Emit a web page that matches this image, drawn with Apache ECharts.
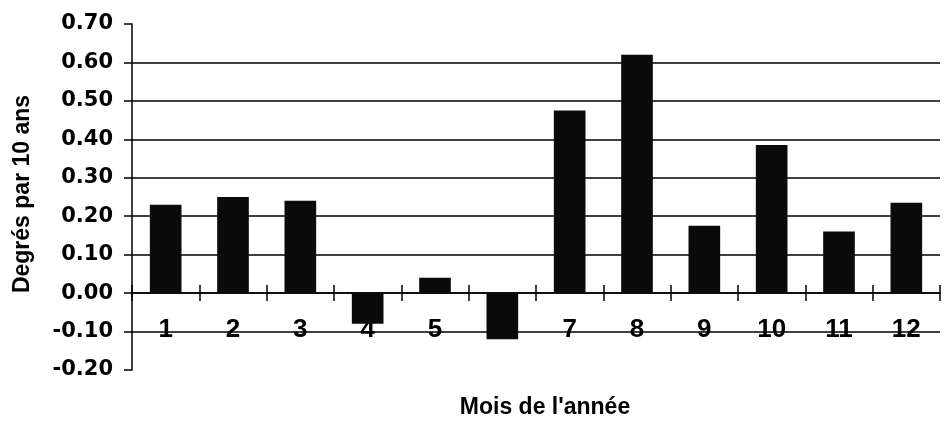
<!DOCTYPE html>
<html>
<head>
<meta charset="utf-8">
<script src="https://cdn.jsdelivr.net/npm/echarts@6/dist/echarts.min.js"></script>
<style>
  html, body { margin: 0; padding: 0; background: #fff; }
  #chart { width: 949px; height: 421px; }
</style>
</head>
<body>
<div id="chart"></div>
<script>
var months = ['1','2','3','4','5','6','7','8','9','10','11','12'];
var values = [0.23, 0.25, 0.24, -0.08, 0.04, -0.12, 0.475, 0.62, 0.175, 0.385, 0.16, 0.235];
var yAxisTitle = 'Degrés par 10 ans';
var xAxisTitle = "Mois de l'année";

var FONT = '"Liberation Sans", Arial, sans-serif';
var chart = echarts.init(document.getElementById('chart'), null, { renderer: 'canvas' });

var yBase = {
  type: 'value',
  min: -0.2,
  max: 0.7,
  interval: 0.1
};

chart.setOption({
  animation: false,
  backgroundColor: '#ffffff',
  grid: { left: 132, right: 9, top: 24, bottom: 51, containLabel: false },
  xAxis: [
    {
      type: 'category',
      data: months,
      position: 'bottom',
      boundaryGap: true,
      axisLine: { show: true, onZero: true, onZeroAxisIndex: 0, lineStyle: { color: '#000', width: 1.5 } },
      axisTick: { show: true, inside: false, length: 8, lineStyle: { color: '#000', width: 1.5 } },
      axisLabel: { show: false },
      splitLine: { show: false }
    },
    {
      type: 'category',
      data: months,
      position: 'bottom',
      boundaryGap: true,
      axisLine: { show: false, onZero: true, onZeroAxisIndex: 1 },
      axisTick: { show: true, inside: true, length: 8, lineStyle: { color: '#000', width: 1.5 } },
      axisLabel: { show: false },
      splitLine: { show: false }
    },
    {
      type: 'category',
      data: months,
      position: 'bottom',
      boundaryGap: true,
      axisLine: { show: false, onZero: false },
      axisTick: { show: false },
      axisLabel: { show: true, margin: -53, color: '#000', fontFamily: FONT, fontWeight: 'bold', fontSize: 26 },
      splitLine: { show: false }
    }
  ],
  yAxis: [
    Object.assign({}, yBase, {
      position: 'left',
      axisLine: { show: true, lineStyle: { color: '#000', width: 1.5 } },
      axisTick: { show: true, inside: false, length: 8, lineStyle: { color: '#000', width: 1.5 } },
      axisLabel: {
        margin: 19,
        color: '#000',
        fontFamily: '"DejaVu Sans", sans-serif',
        fontWeight: 'bold',
        fontSize: 21,
        formatter: function (v) { return v.toFixed(2); }
      },
      splitLine: { show: true, showMinLine: false, showMaxLine: false, lineStyle: { color: '#000', width: 1.5 } }
    }),
    Object.assign({}, yBase, {
      position: 'left',
      axisLine: { show: false },
      axisTick: { show: false },
      axisLabel: { show: false },
      splitLine: { show: false }
    })
  ],
  series: [{
    type: 'bar',
    xAxisIndex: 0,
    yAxisIndex: 0,
    data: values,
    barWidth: '47%',
    itemStyle: { color: '#0a0a0a' }
  }],
  graphic: [
    {
      type: 'text',
      x: 23, y: 194,
      rotation: Math.PI / 2,
      style: {
        text: yAxisTitle,
        fill: '#000',
        font: 'bold 23px ' + FONT,
        textAlign: 'center',
        textVerticalAlign: 'middle'
      }
    },
    {
      type: 'text',
      x: 545, y: 408,
      style: {
        text: xAxisTitle,
        fill: '#000',
        font: 'bold 23px ' + FONT,
        textAlign: 'center',
        textVerticalAlign: 'middle'
      }
    }
  ]
});
</script>
</body>
</html>
